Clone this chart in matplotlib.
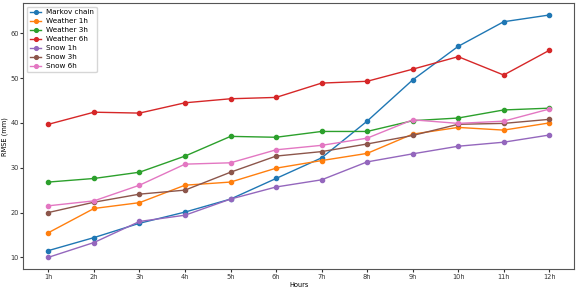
import matplotlib
matplotlib.use("Agg")
import matplotlib.pyplot as plt

hours = ["1h", "2h", "3h", "4h", "5h", "6h", "7h", "8h", "9h", "10h", "11h", "12h"]

markov = [11.5, 14.4, 17.6, 20.1, 23.0, 27.6, 32.2, 40.4, 49.6, 57.1, 62.6, 64.1]
weather_1h = [15.5, 20.9, 22.2, 26.1, 26.8, 29.9, 31.6, 33.2, 37.5, 39.0, 38.4, 40.0]
weather_3h = [26.8, 27.6, 29.0, 32.6, 37.0, 36.8, 38.1, 38.1, 40.5, 41.1, 42.9, 43.3]
weather_6h = [39.7, 42.4, 42.2, 44.5, 45.4, 45.7, 48.9, 49.3, 52.0, 54.8, 50.7, 56.2]
snow_1h = [10.0, 13.3, 18.0, 19.4, 23.0, 25.7, 27.3, 31.3, 33.1, 34.8, 35.7, 37.3]
snow_3h = [20.0, 22.3, 24.1, 25.0, 29.0, 32.6, 33.6, 35.3, 37.2, 39.7, 39.9, 40.8]
snow_6h = [21.5, 22.6, 26.1, 30.8, 31.1, 34.0, 35.0, 36.6, 40.7, 39.9, 40.4, 43.1]

series = [
    ("Markov chain", markov),
    ("Weather 1h", weather_1h),
    ("Weather 3h", weather_3h),
    ("Weather 6h", weather_6h),
    ("Snow 1h", snow_1h),
    ("Snow 3h", snow_3h),
    ("Snow 6h", snow_6h),
]

fig = plt.figure(figsize=(5.78, 2.9), dpi=100)
ax = fig.add_axes([0.0405, 0.071, 0.953, 0.919])

for name, vals in series:
    ax.plot(hours, vals, marker="o", ms=3, lw=1.0, label=name)

ax.set_xlabel("Hours", fontsize=4.8, labelpad=1.5)
ax.set_ylabel("RMSE (mm)", fontsize=4.8, labelpad=1.5)
ax.tick_params(labelsize=4.8, length=2, pad=1.2, colors="#333333")
for sp in ax.spines.values():
    sp.set_color("#555555")
ax.legend(loc="upper left", fontsize=5.2, handlelength=1.6, handletextpad=0.6,
          labelspacing=0.4, borderpad=0.4, markerscale=0.9)

fig.savefig("out.png", dpi=100)
